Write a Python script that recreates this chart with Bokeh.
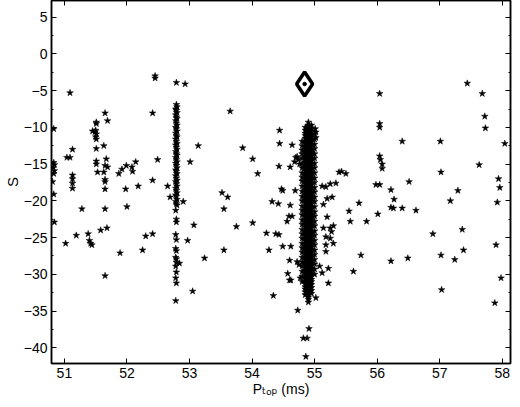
from bokeh.plotting import figure
from bokeh.models import Range1d, LinearAxis, CustomJSTickFormatter, FixedTicker
from bokeh.embed import file_html
from bokeh.resources import INLINE

# ---------------- data ----------------
X_TICKS = [51, 52, 53, 54, 55, 56, 57, 58]
Y_TICKS = [5, 0, -5, -10, -15, -20, -25, -30, -35, -40]
Y_MINOR = [7.5, 2.5, -2.5, -7.5, -12.5, -17.5, -22.5, -27.5, -32.5, -37.5, -42.5]
X_TITLE = "P\u209c\u2092\u209a (ms)"
Y_TITLE = "S"

# isolated solutions
pts_x = [50.83, 50.83, 50.84, 50.82, 50.84, 50.83, 50.81, 50.83, 50.84, 51.02,
         51.04, 51.09, 51.09, 51.13, 51.13, 51.13, 51.13, 51.13, 51.19, 51.28,
         51.38, 51.40, 51.42, 51.44, 51.45, 51.51, 51.51, 51.50, 51.49, 51.51,
         51.50, 51.51, 51.51, 51.51, 51.51, 51.53, 51.58, 51.63, 51.65, 51.69,
         51.67, 51.65, 51.69, 51.63, 51.65, 51.65, 51.65, 51.65, 51.68, 51.65,
         51.87, 51.89, 51.92, 51.98, 51.99, 52.00, 52.08, 52.09, 52.14, 52.18,
         52.25, 52.30, 52.41, 52.41, 52.41, 52.45, 52.45, 52.49, 52.65, 52.69,
         52.79, 52.93, 52.90, 52.84, 52.97, 53.01, 53.07, 53.05, 53.14, 53.24,
         53.52, 53.55, 53.55, 53.61, 53.65, 53.75, 53.85, 54.01, 54.01, 54.09,
         54.23, 54.27, 54.32, 54.34, 54.38, 54.43, 54.42, 54.44, 54.44, 54.43,
         54.47, 54.49, 54.49, 54.56, 54.59, 54.57, 54.60, 54.60, 54.62, 54.62,
         54.61, 54.61, 54.64, 54.69, 54.70, 54.74, 54.72, 54.75, 54.77, 54.73,
         54.91, 54.82, 54.88, 54.86, 54.64, 54.68, 54.72, 54.76,
         55.01, 55.02, 55.02, 55.12, 55.18, 55.25, 55.34, 55.39, 55.43, 55.50,
         55.20, 55.28, 55.14, 55.20, 55.30, 55.14, 55.25, 55.27, 55.18, 55.25,
         55.18, 55.30, 55.18, 55.22, 55.08, 55.12, 55.22, 55.02,
         55.55, 55.57, 55.71, 55.83, 55.74, 55.62,
         56.04, 56.04, 56.04, 56.04, 56.05, 56.08, 56.08, 55.98, 56.04, 56.01,
         56.22, 56.27, 56.22, 56.26, 56.22, 56.40, 56.40, 56.49, 56.51, 56.62,
         56.89, 57.01, 57.02, 57.02, 57.03, 57.17, 57.24, 57.29, 57.36, 57.38,
         57.44, 57.63, 57.68, 57.72, 57.73, 57.90, 57.88, 57.92, 57.94, 57.96,
         57.98, 58.04]
pts_y = [-10.2, -14.8, -15.1, -15.5, -15.9, -16.3, -17.4, -19.1, -22.9, -25.8,
         -14.1, -14.1, -5.3, -13.0, -16.5, -17.0, -17.6, -18.3, -24.7, -21.1,
         -24.5, -25.4, -25.8, -26.0, -10.5, -9.3, -9.5, -10.4, -10.6, -10.9,
         -11.3, -11.6, -12.9, -14.6, -15.0, -16.1, -24.0, -12.5, -8.05, -9.1,
         -14.3, -15.2, -15.4, -16.1, -17.1, -17.4, -18.4, -21.1, -23.7, -30.2,
         -16.3, -27.1, -15.7, -18.4, -15.2, -20.8, -15.4, -16.0, -14.7, -18.0,
         -26.7, -24.8, -24.5, -8.05, -17.2, -3.0, -3.3, -14.4, -18.0, -19.5,
         -3.9, -4.1, -20.1, -28.5, -25.4, -14.7, -23.3, -32.3, -12.5, -27.8,
         -18.9, -21.1, -26.7, -19.5, -7.8, -23.5, -12.8, -14.3, -23.0, -16.3,
         -24.4, -26.7, -20.1, -32.9, -24.5, -24.6, -20.4, -10.4, -12.2, -15.3,
         -18.4, -18.6, -26.2, -22.8, -22.1, -29.9, -28.1, -30.8, -30.8, -26.2,
         -15.4, -20.6, -12.4, -18.6, -14.1, -14.4, -28.3, -28.7, -30.5, -34.9,
         -37.4, -38.7, -38.7, -41.2, -22.1, -14.7, -14.0, -15.0,
         -10.2, -10.65, -11.4, -18.0, -18.1, -17.7, -17.6, -16.1, -16.0, -16.3,
         -19.7, -19.5, -20.5, -22.2, -23.4, -23.7, -23.7, -24.2, -24.9, -25.1,
         -26.0, -25.8, -26.9, -29.2, -28.9, -29.8, -31.2, -33.2,
         -21.4, -22.8, -20.3, -22.8, -27.4, -29.6,
         -5.4, -9.5, -10.0, -13.9, -14.4, -15.0, -15.6, -17.8, -17.8, -21.8,
         -18.5, -19.8, -20.9, -21.0, -28.2, -11.9, -21.0, -27.8, -17.4, -21.3,
         -24.5, -11.9, -16.1, -27.4, -32.1, -20.0, -28.0, -18.6, -23.9, -26.7,
         -4.0, -15.1, -5.4, -8.5, -10.1, -26.0, -33.9, -20.2, -17.0, -18.2,
         -30.5, -12.2]

# column of solutions near P_top = 52.8
col_x = [52.79, 52.80, 52.78, 52.79, 52.80, 52.78, 52.79, 52.80, 52.78, 52.79,
         52.80, 52.78, 52.79, 52.80, 52.78, 52.79, 52.80, 52.78, 52.79, 52.80,
         52.78, 52.79, 52.80, 52.78, 52.79, 52.80, 52.78, 52.79, 52.80, 52.78,
         52.79, 52.80, 52.78, 52.79, 52.80, 52.78, 52.79, 52.80, 52.78, 52.79,
         52.80, 52.78, 52.79, 52.80, 52.78, 52.79, 52.80, 52.78, 52.79, 52.80,
         52.78, 52.79, 52.79, 52.78, 52.79, 52.78, 52.79, 52.78, 52.79, 52.79,
         52.78, 52.79, 52.78, 52.79, 52.78]
col_y = [-6.9, -7.2, -7.5, -7.7, -8.0, -8.3, -8.6, -8.8, -9.1, -9.4,
         -9.7, -10.0, -10.2, -10.5, -10.8, -11.1, -11.3, -11.6, -11.9, -12.2,
         -12.4, -12.7, -13.0, -13.3, -13.6, -13.8, -14.1, -14.4, -14.7, -14.9,
         -15.2, -15.5, -15.8, -16.0, -16.3, -16.6, -16.9, -17.2, -17.4, -17.7,
         -18.0, -18.3, -18.6, -18.9, -19.2, -19.4, -19.8, -20.1, -20.4, -20.6,
         -21.3, -22.5, -22.9, -24.6, -25.3, -26.5, -26.8, -27.7, -27.9, -28.4,
         -28.9, -29.7, -30.5, -31.2, -33.6]

# dense cluster near P_top = 54.9 (read as five narrow vertical bands)
core_c_x = 54.90
core_c_y = [-9.3, -9.7, -9.9, -10.3, -10.6, -10.8, -11.2, -11.4, -11.8, -12.1,
            -12.3, -12.7, -12.9, -13.3, -13.6, -13.8, -14.2, -14.4, -14.8, -15.1,
            -15.3, -15.7, -15.9, -16.3, -16.6, -16.8, -17.2, -17.4, -17.8, -18.1,
            -18.3, -18.7, -18.9, -19.3, -19.6, -19.8, -20.2, -20.4, -20.8, -21.1,
            -21.3, -21.7, -21.9, -22.3, -22.6, -22.8, -23.2, -23.4, -23.8, -24.1,
            -24.3, -24.7, -24.9, -25.3, -25.6, -25.8, -26.2, -26.4, -26.8, -27.1,
            -27.3, -27.7, -27.9, -28.3, -28.6, -28.8, -29.2, -29.4, -29.8, -30.1,
            -30.3, -30.7, -30.9, -31.3, -31.6, -31.8, -32.2, -32.4, -32.8, -33.1,
            -33.4, -33.8]
core_l_x = 54.85
core_l_y = [-10.0, -10.4, -10.8, -11.1, -11.5, -11.9, -12.2, -12.6, -13.0, -13.3,
            -13.7, -14.1, -14.4, -14.8, -15.2, -15.5, -15.9, -16.3, -16.6, -17.0,
            -17.4, -17.7, -18.1, -18.5, -18.8, -19.2, -19.6, -19.9, -20.3, -20.7,
            -21.0, -21.4, -21.8, -22.1, -22.5, -22.9, -23.2, -23.6, -24.0, -24.3,
            -24.7, -25.1, -25.4, -25.8, -26.2, -26.5, -26.9, -27.3, -27.6, -28.0,
            -28.4, -28.7, -29.1, -29.5, -29.8, -30.2, -30.6, -30.9, -31.3, -31.7,
            -32.0, -32.4, -32.8]
core_r_x = 54.95
core_r_y = [-9.7, -10.1, -10.5, -10.9, -11.2, -11.6, -12.0, -12.3, -12.7, -13.1,
            -13.4, -13.8, -14.2, -14.5, -14.9, -15.3, -15.6, -16.0, -16.4, -16.7,
            -17.1, -17.5, -17.8, -18.2, -18.6, -18.9, -19.3, -19.7, -20.0, -20.4,
            -20.8, -21.1, -21.5, -21.9, -22.2, -22.6, -23.0, -23.3, -23.7, -24.1,
            -24.4, -24.8, -25.2, -25.5, -25.9, -26.3, -26.6, -27.0, -27.4, -27.7,
            -28.1, -28.5, -28.8, -29.2, -29.6, -29.9, -30.3, -30.7, -31.0, -31.4,
            -31.8, -32.2, -32.6]
core_ll_x = 54.80
core_ll_y = [-11.9, -12.5, -13.1, -13.6, -14.2, -14.9, -15.5, -16.2, -16.8, -17.3,
             -18.0, -18.7, -19.4, -20.0, -20.7, -21.3, -21.9, -22.6, -23.2, -23.9,
             -24.5, -25.1, -25.8, -26.4, -27.0, -27.7, -28.3, -28.9, -29.6, -30.3,
             -31.0]
core_rr_x = 55.00
core_rr_y = [-10.9, -11.6, -12.3, -12.9, -13.6, -14.2, -14.9, -15.5, -16.2, -16.9,
             -17.5, -18.2, -18.8, -19.5, -20.1, -20.8, -21.5, -22.1, -22.8, -23.4,
             -24.1, -24.7, -25.4, -26.0, -26.7, -27.3, -28.0, -28.6, -29.3, -30.0]

best_x = [54.84]
best_y = [-4.1]

# ---------------- figure ----------------
FONT = "Liberation Sans"
TITLE_FONT = "'Liberation Sans', 'DejaVu Sans'"

p = figure(width=512, height=399, output_backend="svg", toolbar_location=None,
           x_range=Range1d(50.794, 58.131), y_range=Range1d(-42.14, 7.27),
           min_border_left=47, min_border_right=2, min_border_top=0,
           min_border_bottom=36, background_fill_color="white",
           border_fill_color="white")
p.grid.visible = False
p.outline_line_color = "black"
p.outline_line_width = 1.5

minus_fmt = CustomJSTickFormatter(code="return tick < 0 ? '\u2212' + (-tick) : '' + tick;")
blank_fmt = CustomJSTickFormatter(code="return '';")


def style_axis(ax, show_labels):
    ax.axis_line_color = "black"
    ax.axis_line_width = 1.5
    ax.major_tick_in = 5
    ax.major_tick_out = 0
    ax.minor_tick_in = 2
    ax.minor_tick_out = 0
    ax.major_tick_line_color = "black"
    ax.minor_tick_line_color = "black"
    ax.major_tick_line_width = 1
    ax.minor_tick_line_width = 1
    if show_labels:
        ax.formatter = minus_fmt
        ax.major_label_text_font = FONT
        ax.major_label_text_font_size = "14px"
        ax.major_label_text_color = "black"
    else:
        ax.formatter = blank_fmt
        ax.major_label_text_font_size = "1px"
        ax.major_label_text_color = None
        ax.major_label_standoff = 0


xb = p.xaxis[0]
yl = p.yaxis[0]
xb.ticker = FixedTicker(ticks=X_TICKS, minor_ticks=[])
yl.ticker = FixedTicker(ticks=Y_TICKS, minor_ticks=Y_MINOR)
style_axis(xb, True)
style_axis(yl, True)
xb.major_label_standoff = 4
yl.major_label_standoff = 4

xb.axis_label = X_TITLE
xb.axis_label_text_font = TITLE_FONT
xb.axis_label_text_font_size = "14px"
xb.axis_label_text_font_style = "normal"
xb.axis_label_text_color = "black"
xb.axis_label_standoff = 0

yl.axis_label = Y_TITLE
yl.axis_label_text_font = TITLE_FONT
yl.axis_label_text_font_size = "15px"
yl.axis_label_text_font_style = "normal"
yl.axis_label_text_color = "black"
yl.axis_label_standoff = 0

xt = LinearAxis(ticker=FixedTicker(ticks=X_TICKS, minor_ticks=[]))
yr = LinearAxis(ticker=FixedTicker(ticks=Y_TICKS, minor_ticks=Y_MINOR))
style_axis(xt, False)
style_axis(yr, False)
p.add_layout(xt, "above")
p.add_layout(yr, "right")

star_style = dict(marker="star", size=7, fill_color="black", line_color="black",
                  line_width=0.5)
p.scatter(pts_x, pts_y, **star_style)
p.scatter(col_x, col_y, **star_style)
p.scatter([core_c_x] * len(core_c_y), core_c_y, **star_style)
p.scatter([core_l_x] * len(core_l_y), core_l_y, **star_style)
p.scatter([core_r_x] * len(core_r_y), core_r_y, **star_style)
p.scatter([core_ll_x] * len(core_ll_y), core_ll_y, **star_style)
p.scatter([core_rr_x] * len(core_rr_y), core_rr_y, **star_style)

p.scatter(best_x, best_y, marker="diamond", size=24, fill_color=None,
          line_color="black", line_width=3.5)
p.scatter(best_x, best_y, marker="circle", size=3.5, fill_color="black",
          line_color="black")

open("out.html", "w").write(file_html(p, INLINE))
